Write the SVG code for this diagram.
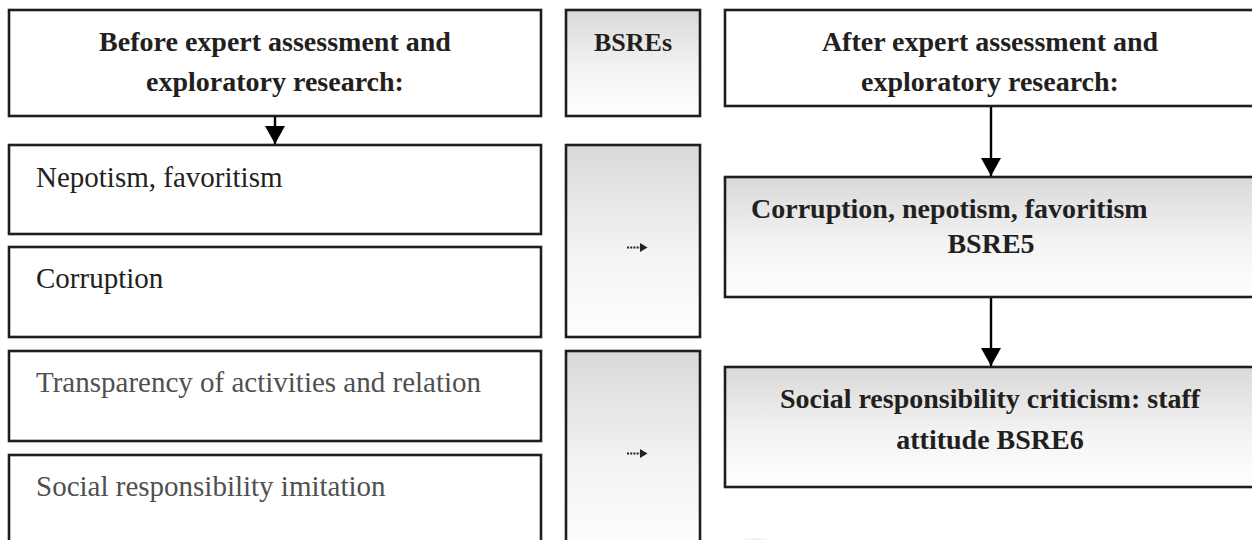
<svg xmlns="http://www.w3.org/2000/svg" width="1252" height="540" viewBox="0 0 1252 540">
  <style>
    .box { stroke: #1e1e1e; stroke-width: 2.6; }
    .white { fill: #ffffff; }
    .grad { fill: url(#g); }
    .h { font-family: "Liberation Serif", "Times New Roman", serif; font-weight: bold; font-size: 28px; fill: #231f20; text-anchor: middle; }
    .t { font-family: "Liberation Serif", "Times New Roman", serif; font-size: 29px; fill: #231f20; }
    .tg { fill: #505050; }
    .conn { stroke: #000; stroke-width: 2.4; fill: none; }
    .dots { stroke: #222; stroke-width: 2; stroke-dasharray: 2 1.2; fill: none; }
  </style>
  <defs>
    <linearGradient id="g" x1="0" y1="0" x2="0" y2="1">
      <stop offset="0" stop-color="#d9d9d9"/>
      <stop offset="0.55" stop-color="#f3f3f3"/>
      <stop offset="1" stop-color="#ffffff"/>
    </linearGradient>
    <marker id="ah" viewBox="0 0 18 20" refX="18" refY="10" markerWidth="18" markerHeight="20" markerUnits="userSpaceOnUse" orient="auto">
      <path d="M0,0 L18,10 L0,20 Z" fill="#000"/>
    </marker>
  </defs>
  <rect width="1252" height="540" fill="#ffffff"/>

  <g id="before-header">
    <rect class="box white" x="9" y="10" width="532" height="106"/>
    <text class="h" x="275" y="51">Before expert assessment and</text>
    <text class="h" x="275" y="91">exploratory research:</text>
  </g>
  <g id="bsres-header">
    <rect class="box grad" x="566" y="10" width="134" height="106"/>
    <text class="h" x="633" y="51" style="font-size:26px">BSREs</text>
  </g>
  <g id="after-header">
    <rect class="box white" x="725" y="10" width="540" height="96"/>
    <text class="h" x="990" y="51">After expert assessment and</text>
    <text class="h" x="990" y="91">exploratory research:</text>
  </g>

  <g id="nepotism">
    <rect class="box white" x="9" y="145" width="532" height="89"/>
    <text class="t" x="36" y="187">Nepotism, favoritism</text>
  </g>
  <g id="corruption">
    <rect class="box white" x="9" y="247" width="532" height="90"/>
    <text class="t" x="36" y="288">Corruption</text>
  </g>
  <g id="transparency">
    <rect class="box white" x="9" y="351" width="532" height="90"/>
    <text class="t tg" x="36" y="392">Transparency of activities and relation</text>
  </g>
  <g id="imitation">
    <rect class="box white" x="9" y="455" width="532" height="100"/>
    <text class="t tg" x="36" y="496">Social responsibility imitation</text>
  </g>

  <g id="bsre-mid-1">
    <rect class="box grad" x="566" y="145" width="134" height="192"/>
  </g>
  <g id="bsre-mid-2">
    <rect class="box grad" x="566" y="351" width="134" height="204"/>
  </g>

  <g id="bsre5">
    <rect class="box grad" x="725" y="177" width="540" height="120"/>
    <text class="h" x="751" y="218" style="text-anchor:start">Corruption, nepotism, favoritism</text>
    <text class="h" x="991" y="253">BSRE5</text>
  </g>
  <g id="bsre6">
    <rect class="box grad" x="725" y="367" width="540" height="120"/>
    <text class="h" x="990" y="408">Social responsibility criticism: staff</text>
    <text class="h" x="990" y="449">attitude BSRE6</text>
  </g>

  <ellipse cx="755" cy="548" rx="22" ry="10" fill="#f1f1f1"/>

  <g id="connectors">
    <line class="conn" x1="275" y1="117" x2="275" y2="144" marker-end="url(#ah)"/>
    <line class="conn" x1="991" y1="107" x2="991" y2="176" marker-end="url(#ah)"/>
    <line class="conn" x1="991" y1="298" x2="991" y2="366" marker-end="url(#ah)"/>
    <line class="dots" x1="627" y1="247.5" x2="640" y2="247.5"/>
    <path d="M640,243 L647.5,247.5 L640,252 Z" fill="#222"/>
    <line class="dots" x1="627" y1="453.5" x2="640" y2="453.5"/>
    <path d="M640,449 L647.5,453.5 L640,458 Z" fill="#222"/>
  </g>
</svg>
